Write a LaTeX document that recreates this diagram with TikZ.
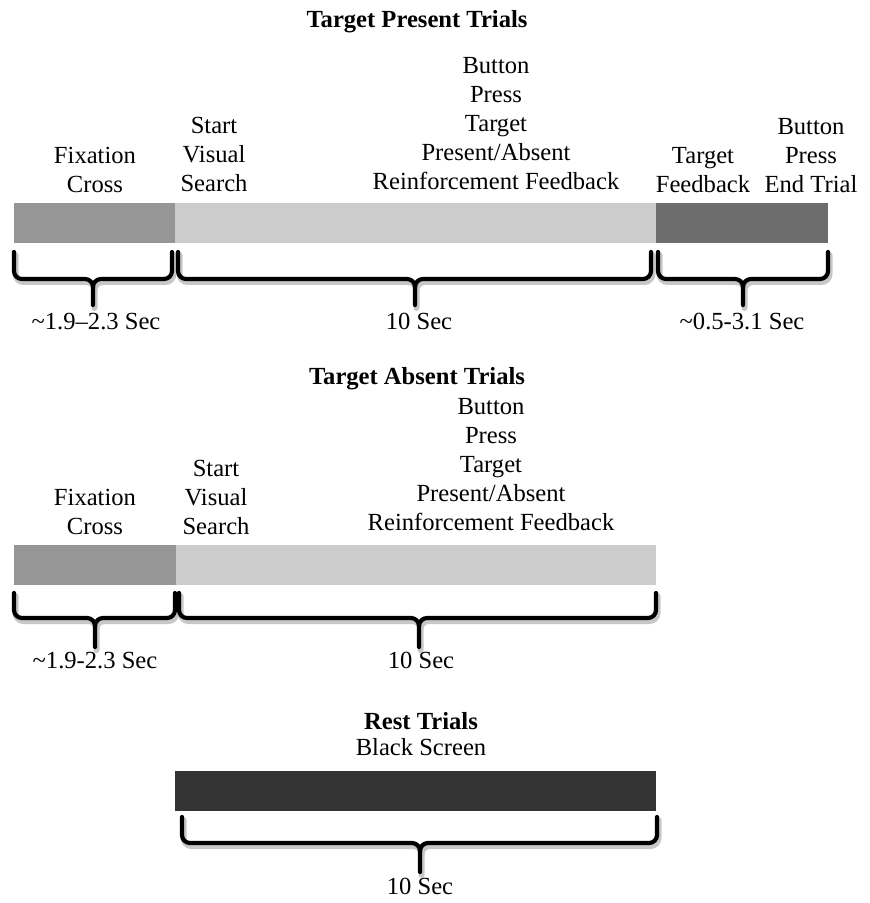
\documentclass[tikz,border=0pt]{standalone}
\usepackage{fontspec}
\setmainfont{Liberation Serif}
\usepackage{xcolor}
\definecolor{fixgray}{HTML}{969696}
\definecolor{searchgray}{HTML}{CCCCCC}
\definecolor{fbgray}{HTML}{6D6D6D}
\definecolor{restgray}{HTML}{333333}
\tikzset{
	lbl/.style={font=\fontsize{12.3}{14.5}\selectfont, align=center, inner sep=0pt},
	ttl/.style={lbl, font=\fontsize{12.3}{14.5}\selectfont\bfseries},
	brc/.style={line width=2.1pt, line cap=round, line join=round},
	brcshadow/.style={brc, black!22, line width=3pt}
}
% x1, tip, x2, top, horizontal, bottom
\newcommand{\timebrace}[6]{%
	\foreach \s/\dx/\dy in {brcshadow/1.5/3, brc/0/0} {
		\draw[\s, shift={(\dx,\dy)}] (#1,#4) -- (#1,#5-8) to[out=-90,in=180] (#1+8,#5) -- (#2-8,#5) to[out=0,in=90] (#2,#5+8) -- (#2,#6);
		\draw[\s, shift={(\dx,\dy)}] (#2,#5+8) to[out=90,in=180] (#2+8,#5) -- (#3-8,#5) to[out=0,in=-90] (#3,#5-8) -- (#3,#4);
	}
}

\begin{document}
\begin{tikzpicture}[x=0.5pt, y=-0.5pt]
	\useasboundingbox (0,0) rectangle (870,903);

	% Target present trials
	\node[ttl, anchor=base] (ptitle) at (417,28) {Target Present Trials};
	\fill[fixgray] (14,203) rectangle (175,243);
	\fill[searchgray] (175,203) rectangle (656,243);
	\fill[fbgray] (656,203) rectangle (828,243);
	\node[lbl, anchor=south] (pfix) at (95,193) {Fixation\\Cross};
	\node[lbl, anchor=south] (pstart) at (214,192) {Start\\Visual\\Search};
	\node[lbl, anchor=south] (ppress) at (496,190) {Button\\Press\\Target\\Present/Absent\\Reinforcement Feedback};
	\node[lbl, anchor=south] (pfb) at (703,193) {Target\\Feedback};
	\node[lbl, anchor=south] (pend) at (811,193) {Button\\Press\\End Trial};
	\timebrace{14}{93}{172}{252}{279}{305}
	\timebrace{178}{415}{651}{252}{279}{305}
	\timebrace{658}{743}{828}{252}{279}{305}
	\node[lbl, anchor=base] (pfixdur) at (96,329) {\textasciitilde1.9–2.3 Sec};
	\node[lbl, anchor=base] (psearchdur) at (419,329) {10 Sec};
	\node[lbl, anchor=base] (pfbdur) at (742,329) {\textasciitilde0.5-3.1 Sec};

	% Target absent trials
	\node[ttl, anchor=base] (atitle) at (417,384) {Target Absent Trials};
	\fill[fixgray] (14,545) rectangle (176,585);
	\fill[searchgray] (176,545) rectangle (656,585);
	\node[lbl, anchor=south] (afix) at (95,535) {Fixation\\Cross};
	\node[lbl, anchor=south] (astart) at (216,535) {Start\\Visual\\Search};
	\node[lbl, anchor=south] (apress) at (491,531) {Button\\Press\\Target\\Present/Absent\\Reinforcement Feedback};
	\timebrace{14}{95}{175}{593}{618}{647}
	\timebrace{179}{419}{656}{593}{618}{647}
	\node[lbl, anchor=base] (afixdur) at (95,668) {\textasciitilde1.9-2.3 Sec};
	\node[lbl, anchor=base] (asearchdur) at (421,668) {10 Sec};

	% Rest trials
	\node[ttl, anchor=base] (rtitle) at (421,729) {Rest Trials};
	\node[lbl, anchor=base] (rscreen) at (421,755) {Black Screen};
	\fill[restgray] (175,771) rectangle (656,811);
	\timebrace{182}{420}{657}{817}{843}{872}
	\node[lbl, anchor=base] (rdur) at (420,894) {10 Sec};

\end{tikzpicture}
\end{document}
